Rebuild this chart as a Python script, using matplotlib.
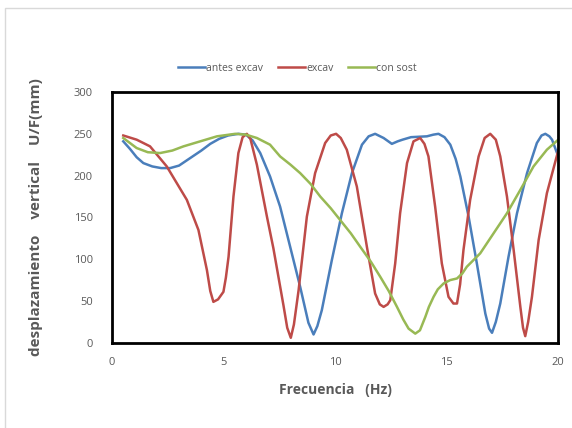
import matplotlib.pyplot as plt
from matplotlib.patches import Rectangle

# valores
x_antes = [0.5, 0.8, 1.1, 1.4, 1.8, 2.2, 2.6, 3.0, 3.5, 4.0, 4.4, 4.8, 5.2, 5.66, 6.0, 6.3,
           6.64, 7.08, 7.53, 7.98, 8.43, 8.8, 9.03, 9.2, 9.4, 9.85, 10.3, 10.75, 11.2, 11.5,
           11.79, 12.17, 12.54, 12.8, 13.02, 13.4, 14.11, 14.4, 14.63, 14.9, 15.16, 15.4,
           15.61, 15.98, 16.35, 16.73, 16.9, 17.03, 17.2, 17.4, 17.77, 18.15, 18.6, 19.04,
           19.25, 19.42, 19.6, 19.72, 20]
y_antes = [241, 232, 222, 215, 211, 209, 209, 212, 221, 230, 238, 244, 248, 250, 249, 242,
           227, 199, 163, 115, 67, 24, 10, 20, 39, 99, 155, 203, 237, 247,
           250, 245, 238, 241, 243, 246, 247, 249, 250, 246, 237, 220,
           199, 151, 95, 35, 17, 12, 25, 47, 103, 155, 203, 239,
           248, 250, 247, 243, 223]

x_excav = [0.5, 1.1, 1.7, 2.45, 3.35, 3.87, 4.25, 4.4, 4.54, 4.75, 4.99, 5.1, 5.22, 5.44,
           5.66, 5.85, 6.04, 6.2, 6.49, 6.94, 7.23, 7.68, 7.85, 8.01, 8.15, 8.36, 8.73, 9.1,
           9.55, 9.8, 10.04, 10.25, 10.52, 10.97, 11.42, 11.79, 12.0, 12.17, 12.35, 12.47,
           12.69, 12.91, 13.22, 13.51, 13.81, 14.0, 14.18, 14.48, 14.78, 15.08, 15.3, 15.46,
           15.6, 15.75, 16.05, 16.43, 16.7, 16.95, 17.2, 17.4, 17.7, 18.0, 18.3, 18.42, 18.52,
           18.65, 18.82, 19.12, 19.49, 20]
y_excav = [248, 243, 235, 211, 171, 135, 87, 62, 49, 52, 61, 78, 103, 175,
           227, 246, 250, 244, 213, 151, 113, 45, 18, 6, 22, 63, 151, 203,
           239, 248, 250, 245, 231, 187, 115, 59, 46, 43, 46, 51,
           95, 155, 215, 241, 245, 238, 223, 163, 95, 55, 47, 47,
           70, 111, 171, 223, 245, 250, 243, 223, 175, 111, 43, 18, 8,
           25, 55, 123, 179, 230]

x_sost = [0.5, 1.1, 1.6, 2.15, 2.7, 3.2, 3.95, 4.7, 5.52, 6.0, 6.49, 7.08, 7.53, 8.0, 8.43,
          8.9, 9.33, 9.8, 10.22, 10.7, 11.12, 11.6, 12.02, 12.4, 12.77, 13.05, 13.29, 13.59,
          13.8, 14.04, 14.2, 14.41, 14.6, 14.86, 15.15, 15.46, 15.7, 15.9, 16.5, 17.1, 17.7,
          18.3, 18.89, 19.49, 20]
y_sost = [245, 233, 228, 227, 230, 235, 241, 247, 250, 249, 245, 237, 223, 213, 203,
          190, 175, 161, 147, 131, 115, 97, 79, 62, 43, 28, 17, 11,
          15, 31, 43, 55, 64, 71, 75, 77, 83, 91, 107, 131, 155,
          183, 211, 231, 243]

x_ticks = [0, 5, 10, 15, 20]
y_ticks = [0, 50, 100, 150, 200, 250, 300]

plt.rcParams['font.family'] = ['Open Sans', 'DejaVu Sans']

fig = plt.figure(figsize=(5.72, 4.28), dpi=100)
ax = fig.add_axes([0.196, 0.199, 0.78, 0.586])

ax.plot(x_antes, y_antes, color='#4A7EBB', lw=1.8, label='antes excav')
ax.plot(x_excav, y_excav, color='#BE4B48', lw=1.8, label='excav')
ax.plot(x_sost, y_sost, color='#98B954', lw=1.8, label='con sost')

ax.set_xlim(0, 20)
ax.set_ylim(0, 300)
ax.set_xticks(x_ticks)
ax.set_yticks(y_ticks)
ax.tick_params(length=0, labelsize=8, colors='#595959')
ax.tick_params(axis='x', pad=10)
ax.tick_params(axis='y', pad=14)
for s in ax.spines.values():
    s.set_linewidth(2)
    s.set_color('black')

ax.set_xlabel('Frecuencia   (Hz)', fontsize=10, fontweight='bold', color='#595959', labelpad=11)
ax.set_ylabel('desplazamiento    vertical    U/F(mm)', fontsize=11, fontweight='bold',
              color='#595959', labelpad=22)

fig.legend(loc='center', bbox_to_anchor=(0.52, 0.84), ncol=3, frameon=False, fontsize=7.5,
           handlelength=2.6, columnspacing=1.4, handletextpad=0.1, labelcolor='#595959')

fig.patches.append(Rectangle((5 / 572, -0.1), 1.2, 1 - 8 / 428 + 0.1, transform=fig.transFigure,
                             fill=False, edgecolor='#D9D9D9', lw=1))

fig.savefig('out.png', dpi=100)
